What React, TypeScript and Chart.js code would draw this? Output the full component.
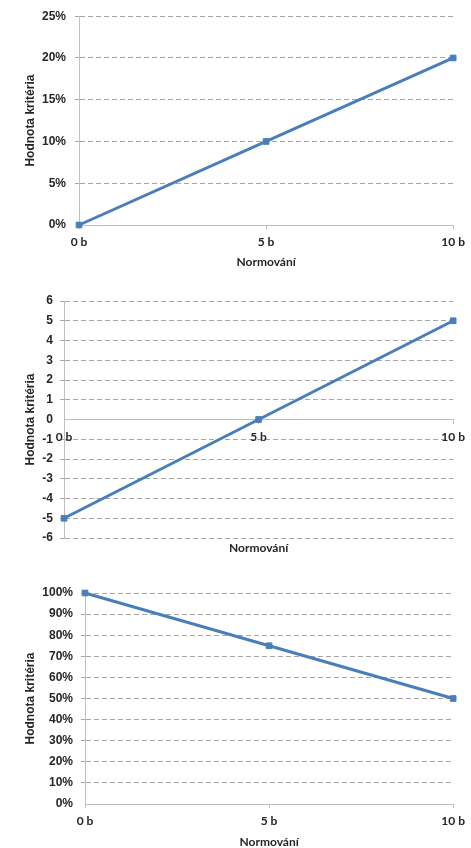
import React, { useEffect, useRef } from 'react';
import { Chart, registerables } from 'chart.js';

Chart.register(...registerables);

// ---- data ----
const xValues = [0, 5, 10];
const xSuffix = ' b';
const xTitle = 'Normování';
const yTitle = 'Hodnota kritéria';

const series1 = [0, 10, 20]; // %
const yRange1 = [0, 25, 5];

const series2 = [-5, 0, 5];
const yRange2 = [-6, 6, 1];

const series3 = [100, 75, 50]; // %
const yRange3 = [0, 100, 10];

// ---- styles ----
const LINE = '#4a7ebb';
const AXIS = '#bfbfbf';
const GRID = '#a6a6a6';
const TEXT = '#262626';
const yTickFont = { family: "'Liberation Sans', Arial, sans-serif", size: 12, weight: 'bold' as const };
const xFont = { family: "Lato, 'Open Sans', sans-serif", size: 12, weight: 'bold' as const };

interface Spec {
  top: number;
  height: number;
  data: number[];
  range: number[];
  percent: boolean;
  zeroAxis: boolean;
  padTop: number;
  yWidth: number;
  yTickPad: number;
  xHeight: number;
  titleLineHeight: number;
  titlePadBottom: number;
}

function buildConfig(s: Spec): any {
  const points = xValues.map((x, i) => ({ x, y: s.data[i] }));
  const hideAt = s.zeroAxis ? 0 : s.range[0];
  const xScale: any = {
    type: 'linear',
    min: xValues[0],
    max: xValues[xValues.length - 1],
    ticks: {
      stepSize: 5,
      color: TEXT,
      font: xFont,
      padding: 6,
      maxRotation: 0,
      callback: (v: number) => v + xSuffix,
    },
    grid: { drawOnChartArea: false, drawTicks: true, tickLength: 4, color: AXIS },
    border: { color: AXIS, width: 1 },
  };
  if (s.zeroAxis) {
    xScale.position = { y: 0 };
    xScale.title = { display: false };
  } else {
    xScale.position = 'bottom';
    xScale.title = {
      display: true,
      text: xTitle,
      color: TEXT,
      font: { ...xFont, lineHeight: s.titleLineHeight },
      padding: { top: 0, bottom: s.titlePadBottom },
    };
    xScale.afterFit = (sc: any) => {
      sc.height = s.xHeight;
    };
  }
  return {
    type: 'line',
    data: {
      datasets: [
        {
          data: points,
          borderColor: LINE,
          backgroundColor: LINE,
          borderWidth: 3,
          pointStyle: 'rect',
          pointRadius: 4,
          pointHoverRadius: 4,
          pointBackgroundColor: LINE,
          pointBorderColor: LINE,
          pointBorderWidth: 1,
          tension: 0,
          clip: false,
        },
      ],
    },
    options: {
      animation: false,
      responsive: false,
      maintainAspectRatio: false,
      events: [],
      layout: { padding: { left: 19, right: 15, top: s.padTop, bottom: 0 } },
      plugins: {
        legend: { display: false },
        tooltip: { enabled: false },
        title: s.zeroAxis
          ? {
              display: true,
              text: xTitle,
              position: 'bottom',
              fullSize: false,
              color: TEXT,
              font: xFont,
              padding: { top: 2.6, bottom: 5 },
            }
          : { display: false },
      },
      scales: {
        x: xScale,
        y: {
          type: 'linear',
          position: 'left',
          min: s.range[0],
          max: s.range[1],
          ticks: {
            stepSize: s.range[2],
            color: TEXT,
            font: yTickFont,
            padding: s.yTickPad,
            callback: (v: number) => (s.percent ? v + '%' : String(v)),
          },
          grid: {
            color: (ctx: any) => (ctx.tick && ctx.tick.value === hideAt ? 'rgba(0,0,0,0)' : GRID),
            lineWidth: 1,
            drawTicks: true,
            tickLength: 4,
          },
          border: { color: AXIS, width: 1, dash: [5, 3] },
          title: {
            display: true,
            text: yTitle,
            color: TEXT,
            font: { family: "'Liberation Sans', Arial, sans-serif", size: 12, weight: 'bold' },
            padding: { top: 4, bottom: 4 },
          },
          afterFit: (sc: any) => {
            sc.width = s.yWidth;
          },
        },
      },
    },
  };
}

function LineChart({ spec }: { spec: Spec }) {
  const ref = useRef<HTMLCanvasElement | null>(null);
  useEffect(() => {
    if (!ref.current) return;
    const chart = new Chart(ref.current, buildConfig(spec));
    return () => chart.destroy();
  }, [spec]);
  return (
    <div style={{ position: 'absolute', left: 0, top: spec.top, width: 471, height: spec.height }}>
      <canvas ref={ref} width={471} height={spec.height} style={{ width: 471, height: spec.height, display: 'block' }} />
    </div>
  );
}

const specs: Spec[] = [
  {
    top: 0, height: 275, data: series1, range: yRange1, percent: true, zeroAxis: false,
    padTop: 15, yWidth: 60, yTickPad: 9, xHeight: 50, titleLineHeight: 1.2, titlePadBottom: 6,
  },
  {
    top: 280, height: 280, data: series2, range: yRange2, percent: false, zeroAxis: true,
    padTop: 21, yWidth: 45, yTickPad: 7, xHeight: 0, titleLineHeight: 1.2, titlePadBottom: 5,
  },
  {
    top: 575, height: 273, data: series3, range: yRange3, percent: true, zeroAxis: false,
    padTop: 18, yWidth: 66, yTickPad: 8, xHeight: 44, titleLineHeight: 1, titlePadBottom: 0,
  },
];

export default function App() {
  return (
    <div style={{ position: 'absolute', left: 0, top: 0, width: 471, height: 848, overflow: 'hidden', background: '#fff' }}>
      {specs.map((s, i) => (
        <LineChart key={i} spec={s} />
      ))}
    </div>
  );
}
